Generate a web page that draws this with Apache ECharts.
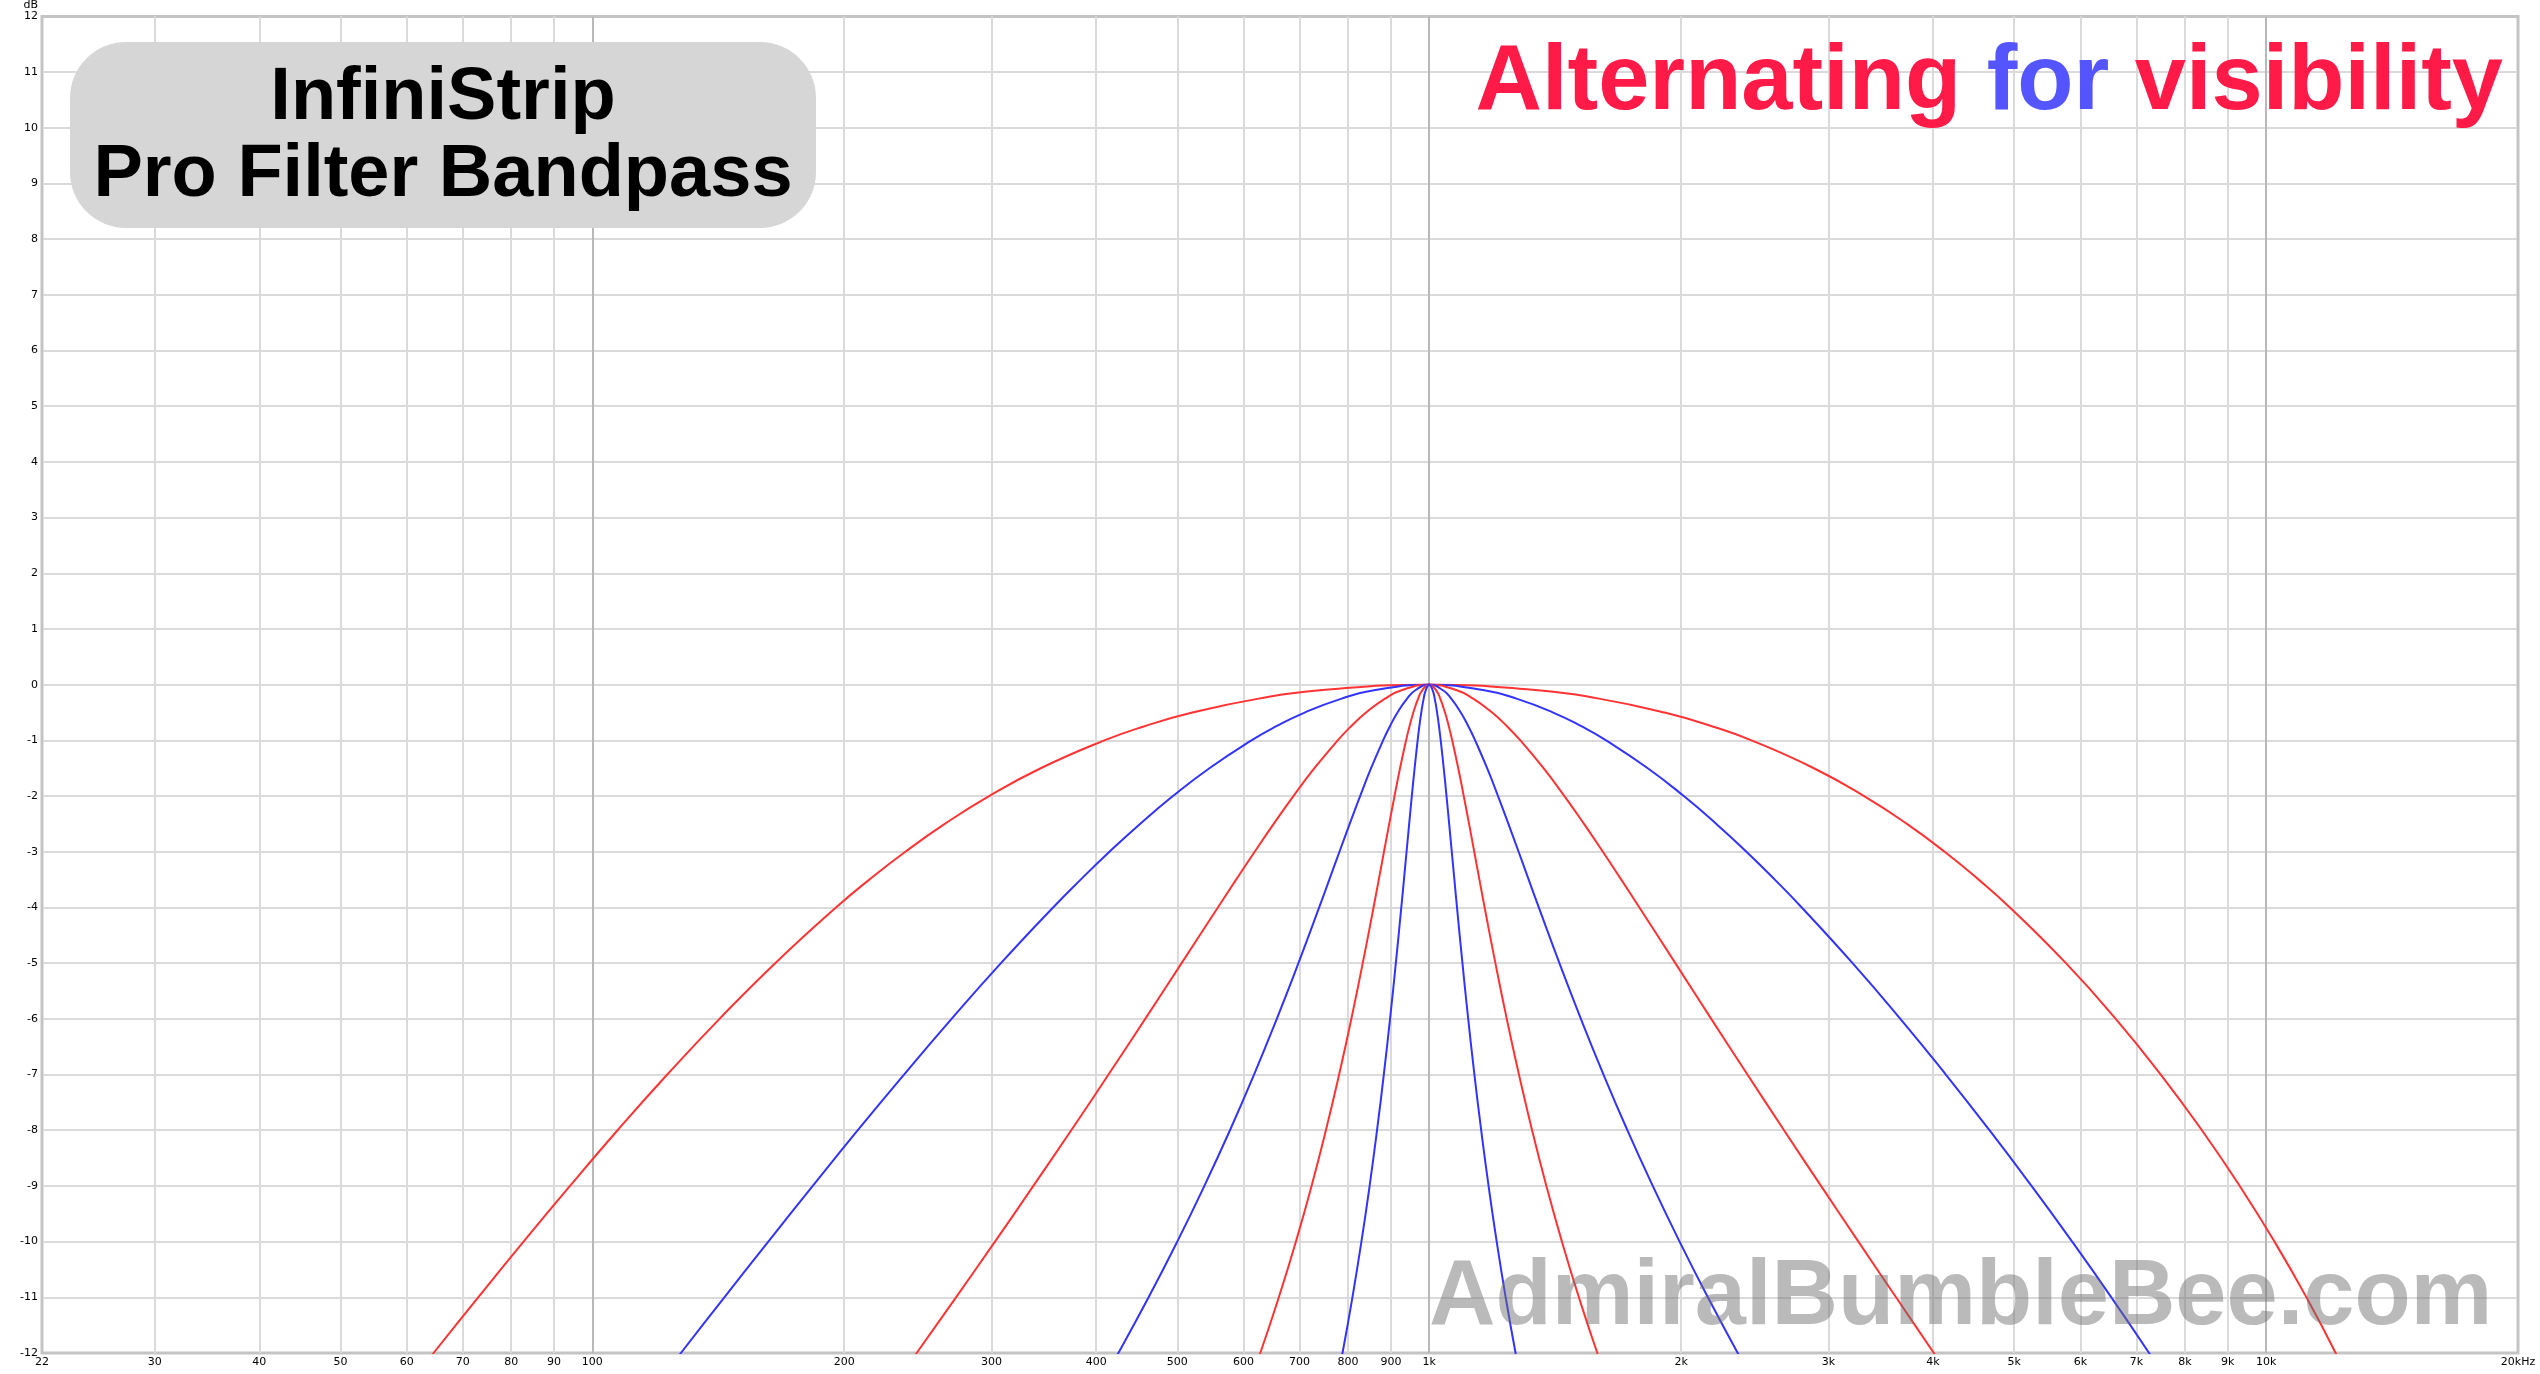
<!DOCTYPE html>
<html><head><meta charset="utf-8">
<script src="https://cdn.jsdelivr.net/npm/echarts@6/dist/echarts.min.js"></script>
<style>html,body{margin:0;padding:0;background:#fff}#c{width:2540px;height:1374px}</style>
</head><body><div id="c"></div>
<script>
// Tick positions and labels
const xTickValues = [22, 30, 40, 50, 60, 70, 80, 90, 100, 200, 300, 400, 500, 600, 700, 800, 900,
  1000, 2000, 3000, 4000, 5000, 6000, 7000, 8000, 9000, 10000, 20000];
const xTickLabels = ['22', '30', '40', '50', '60', '70', '80', '90', '100', '200', '300', '400', '500', '600', '700', '800', '900',
  '1k', '2k', '3k', '4k', '5k', '6k', '7k', '8k', '9k', '10k', '20kHz'];
const xDecades = [100, 1000, 10000];
const yTicks = [-12, -11, -10, -9, -8, -7, -6, -5, -4, -3, -2, -1, 0, 1, 2, 3, 4, 5, 6, 7, 8, 9, 10, 11, 12];

// dB levels at which each curve's frequencies were read (below and above the 1 kHz peak)
const levels = [-0.1, -0.25, -0.5, -0.75, -1, -1.5, -2, -2.5, -3, -3.5, -4, -5, -6, -7, -8, -9, -10, -11, -12, -13];
const peak = [1000, 0];

// Curve 1 (red, widest)
const c1Low  = [740.3, 625.4, 521.2, 456.1, 409.1, 343.4, 297.9, 263.7, 236.6, 214.3, 195.5, 165.4, 141.9, 122.9, 107.2, 94.04, 82.76, 73.05, 64.61, 57.24];
const c1High = [1349.2, 1595.5, 1911.2, 2180.9, 2427.4, 2882.0, 3309.1, 3722.5, 4129.5, 4534.9, 4941.4, 5765.7, 6612.1, 7484.2, 8381.6, 9300.5, 10234, 11174, 12110, 13032];
// Curve 2 (blue)
const c2Low  = [859.0, 785.8, 709.9, 656.0, 613.2, 546.2, 494.1, 451.3, 414.9, 383.3, 355.3, 307.8, 268.7, 235.8, 207.6, 183.4, 162.3, 143.8, 127.6, 113.4];
const c2High = [1163.6, 1271.5, 1406.6, 1521.5, 1627.0, 1824.7, 2014.8, 2203.5, 2393.8, 2587.9, 2787.2, 3205.5, 3655.8, 4143.1, 4671.7, 5245.0, 5865.0, 6532.9, 7248.1, 8008.8];
// Curve 3 (red)
const c3Low  = [926.6, 885.7, 840.5, 806.2, 777.4, 729.2, 688.2, 651.9, 618.7, 587.9, 559.1, 506.0, 457.8, 413.8, 373.5, 336.5, 302.8, 272.0, 244.1, 218.7];
const c3High = [1079.0, 1128.6, 1189.1, 1239.4, 1285.1, 1369.7, 1450.7, 1531.1, 1612.6, 1696.3, 1783.1, 1968.3, 2172.7, 2400.2, 2654.5, 2939.0, 3257.2, 3612.7, 4008.8, 4448.6];
// Curve 4 (blue)
const c4Low  = [962.6, 941.0, 916.5, 897.3, 880.8, 852.2, 826.9, 803.5, 781.2, 759.7, 738.8, 697.8, 657.5, 617.6, 578.0, 538.7, 500.0, 462.1, 425.2, 389.7];
const c4High = [1038.8, 1062.5, 1090.8, 1114.0, 1134.8, 1172.8, 1208.5, 1243.6, 1278.9, 1314.9, 1352.0, 1430.9, 1518.0, 1615.4, 1725.2, 1849.8, 1991.5, 2152.9, 2336.9, 2546.2];
// Curve 5 (red)
const c5Low  = [981.1, 970.0, 957.3, 947.2, 938.4, 922.9, 909.0, 895.8, 883.0, 870.5, 858.0, 832.9, 807.2, 780.5, 752.6, 723.5, 693.0, 661.2, 628.3, 594.3];
const c5High = [1019.2, 1030.8, 1044.5, 1055.6, 1065.4, 1083.2, 1099.8, 1115.9, 1132.0, 1148.2, 1164.8, 1199.8, 1237.9, 1280.1, 1327.2, 1380.4, 1440.8, 1509.6, 1588.2, 1678.3];
// Curve 6 (blue, narrowest)
const c6Low  = [990.5, 984.9, 978.4, 973.2, 968.7, 960.7, 953.3, 946.4, 939.6, 932.9, 926.1, 912.3, 897.9, 882.6, 866.3, 848.8, 829.9, 809.6, 787.8, 764.3];
const c6High = [1009.6, 1015.3, 1022.0, 1027.4, 1032.2, 1040.8, 1048.8, 1056.5, 1064.1, 1071.8, 1079.5, 1095.8, 1113.3, 1132.5, 1153.8, 1177.5, 1204.1, 1234.2, 1268.3, 1307.1];

const RED = '#ff3333', BLUE = '#3333ff';
const curves = [
  [c1Low, c1High, RED], [c2Low, c2High, BLUE], [c3Low, c3High, RED],
  [c4Low, c4High, BLUE], [c5Low, c5High, RED], [c6Low, c6High, BLUE]
];

function buildData(low, high) {
  const d = [];
  for (let i = low.length - 1; i >= 0; i--) d.push([low[i], levels[i]]);
  d.push(peak.slice());
  for (let i = 0; i < high.length; i++) d.push([high[i], levels[i]]);
  return d;
}

const BORDER = '#c4c4c4', MINOR = '#dadada', MAJOR = '#b8b8b8';
const xGridColors = xTickValues.map((v, i) =>
  (i === 0 || i === xTickValues.length - 1) ? BORDER : (xDecades.indexOf(v) >= 0 ? MAJOR : MINOR));
const yGridColors = yTicks.map((v, i) => (i === 0 || i === yTicks.length - 1) ? BORDER : MINOR);

function xLabel(v) {
  let best = 0, bd = Infinity;
  for (let i = 0; i < xTickValues.length; i++) {
    const d = Math.abs(Math.log(v / xTickValues[i]));
    if (d < bd) { bd = d; best = i; }
  }
  return xTickLabels[best];
}

const FONT = 'DejaVu Sans';
const TFONT = 'Liberation Sans';
const chart = echarts.init(document.getElementById('c'));
chart.setOption({
  animation: false,
  backgroundColor: '#ffffff',
  grid: { left: 42, right: 22, top: 14, bottom: 21, show: true, borderColor: BORDER, borderWidth: 3, backgroundColor: 'transparent' },
  xAxis: {
    type: 'log', logBase: 10, min: 22, max: 20000,
    axisLine: { show: false },
    axisTick: { show: false, customValues: xTickValues },
    axisLabel: { customValues: xTickValues, formatter: xLabel, color: '#000', fontFamily: FONT, fontSize: 11, margin: 4, showMinLabel: true, showMaxLabel: true },
    splitLine: { show: true, lineStyle: { color: xGridColors, width: 2 } }
  },
  yAxis: {
    type: 'value', min: -12, max: 12, interval: 1,
    name: 'dB', nameLocation: 'end', nameGap: 2,
    nameTextStyle: { color: '#000', fontFamily: FONT, fontSize: 11, align: 'right', verticalAlign: 'bottom', padding: [0, 4, 0, 0] },
    axisLine: { show: false },
    axisTick: { show: false },
    axisLabel: { color: '#000', fontFamily: FONT, fontSize: 11, margin: 4 },
    splitLine: { show: true, lineStyle: { color: yGridColors, width: 2 } }
  },
  series: curves.map(c => ({
    type: 'line', data: buildData(c[0], c[1]), smooth: 0.5, showSymbol: false, clip: true,
    lineStyle: { color: c[2], width: 2 }, itemStyle: { color: c[2] }, z: 3
  })),
  graphic: [
    { type: 'rect', z: 10, shape: { x: 70, y: 42, width: 746, height: 186, r: 56 }, style: { fill: '#d6d6d6' } },
    { type: 'text', z: 11, x: 443, y: 99,
      style: { text: 'InfiniStrip', fill: '#000', fontSize: 74, fontWeight: 'bold', fontFamily: TFONT,
        align: 'center', verticalAlign: 'middle', textAlign: 'center', textVerticalAlign: 'middle' } },
    { type: 'text', z: 11, x: 443, y: 176,
      style: { text: 'Pro Filter Bandpass', fill: '#000', fontSize: 74, fontWeight: 'bold', fontFamily: TFONT,
        align: 'center', verticalAlign: 'middle', textAlign: 'center', textVerticalAlign: 'middle' } },
    { type: 'text', z: 11, x: 2503, y: 84,
      style: { text: '{r|Alternating }{b|for}{r| visibility}', fontSize: 92, fontWeight: 'bold', fontFamily: TFONT,
        align: 'right', verticalAlign: 'middle', textAlign: 'right', textVerticalAlign: 'middle',
        rich: {
          r: { fill: '#ff1a47', color: '#ff1a47', fontSize: 92, fontWeight: 'bold', fontFamily: TFONT },
          b: { fill: '#5555ff', color: '#5555ff', fontSize: 92, fontWeight: 'bold', fontFamily: TFONT }
        } } },
    { type: 'text', z: 100, x: 1429, y: 1299,
      style: { text: 'AdmiralBumbleBee.com', fill: 'rgba(110,110,110,0.48)', fontSize: 92, fontWeight: 'bold', fontFamily: TFONT,
        align: 'left', verticalAlign: 'middle', textAlign: 'left', textVerticalAlign: 'middle' } }
  ]
});
</script>
</body></html>
